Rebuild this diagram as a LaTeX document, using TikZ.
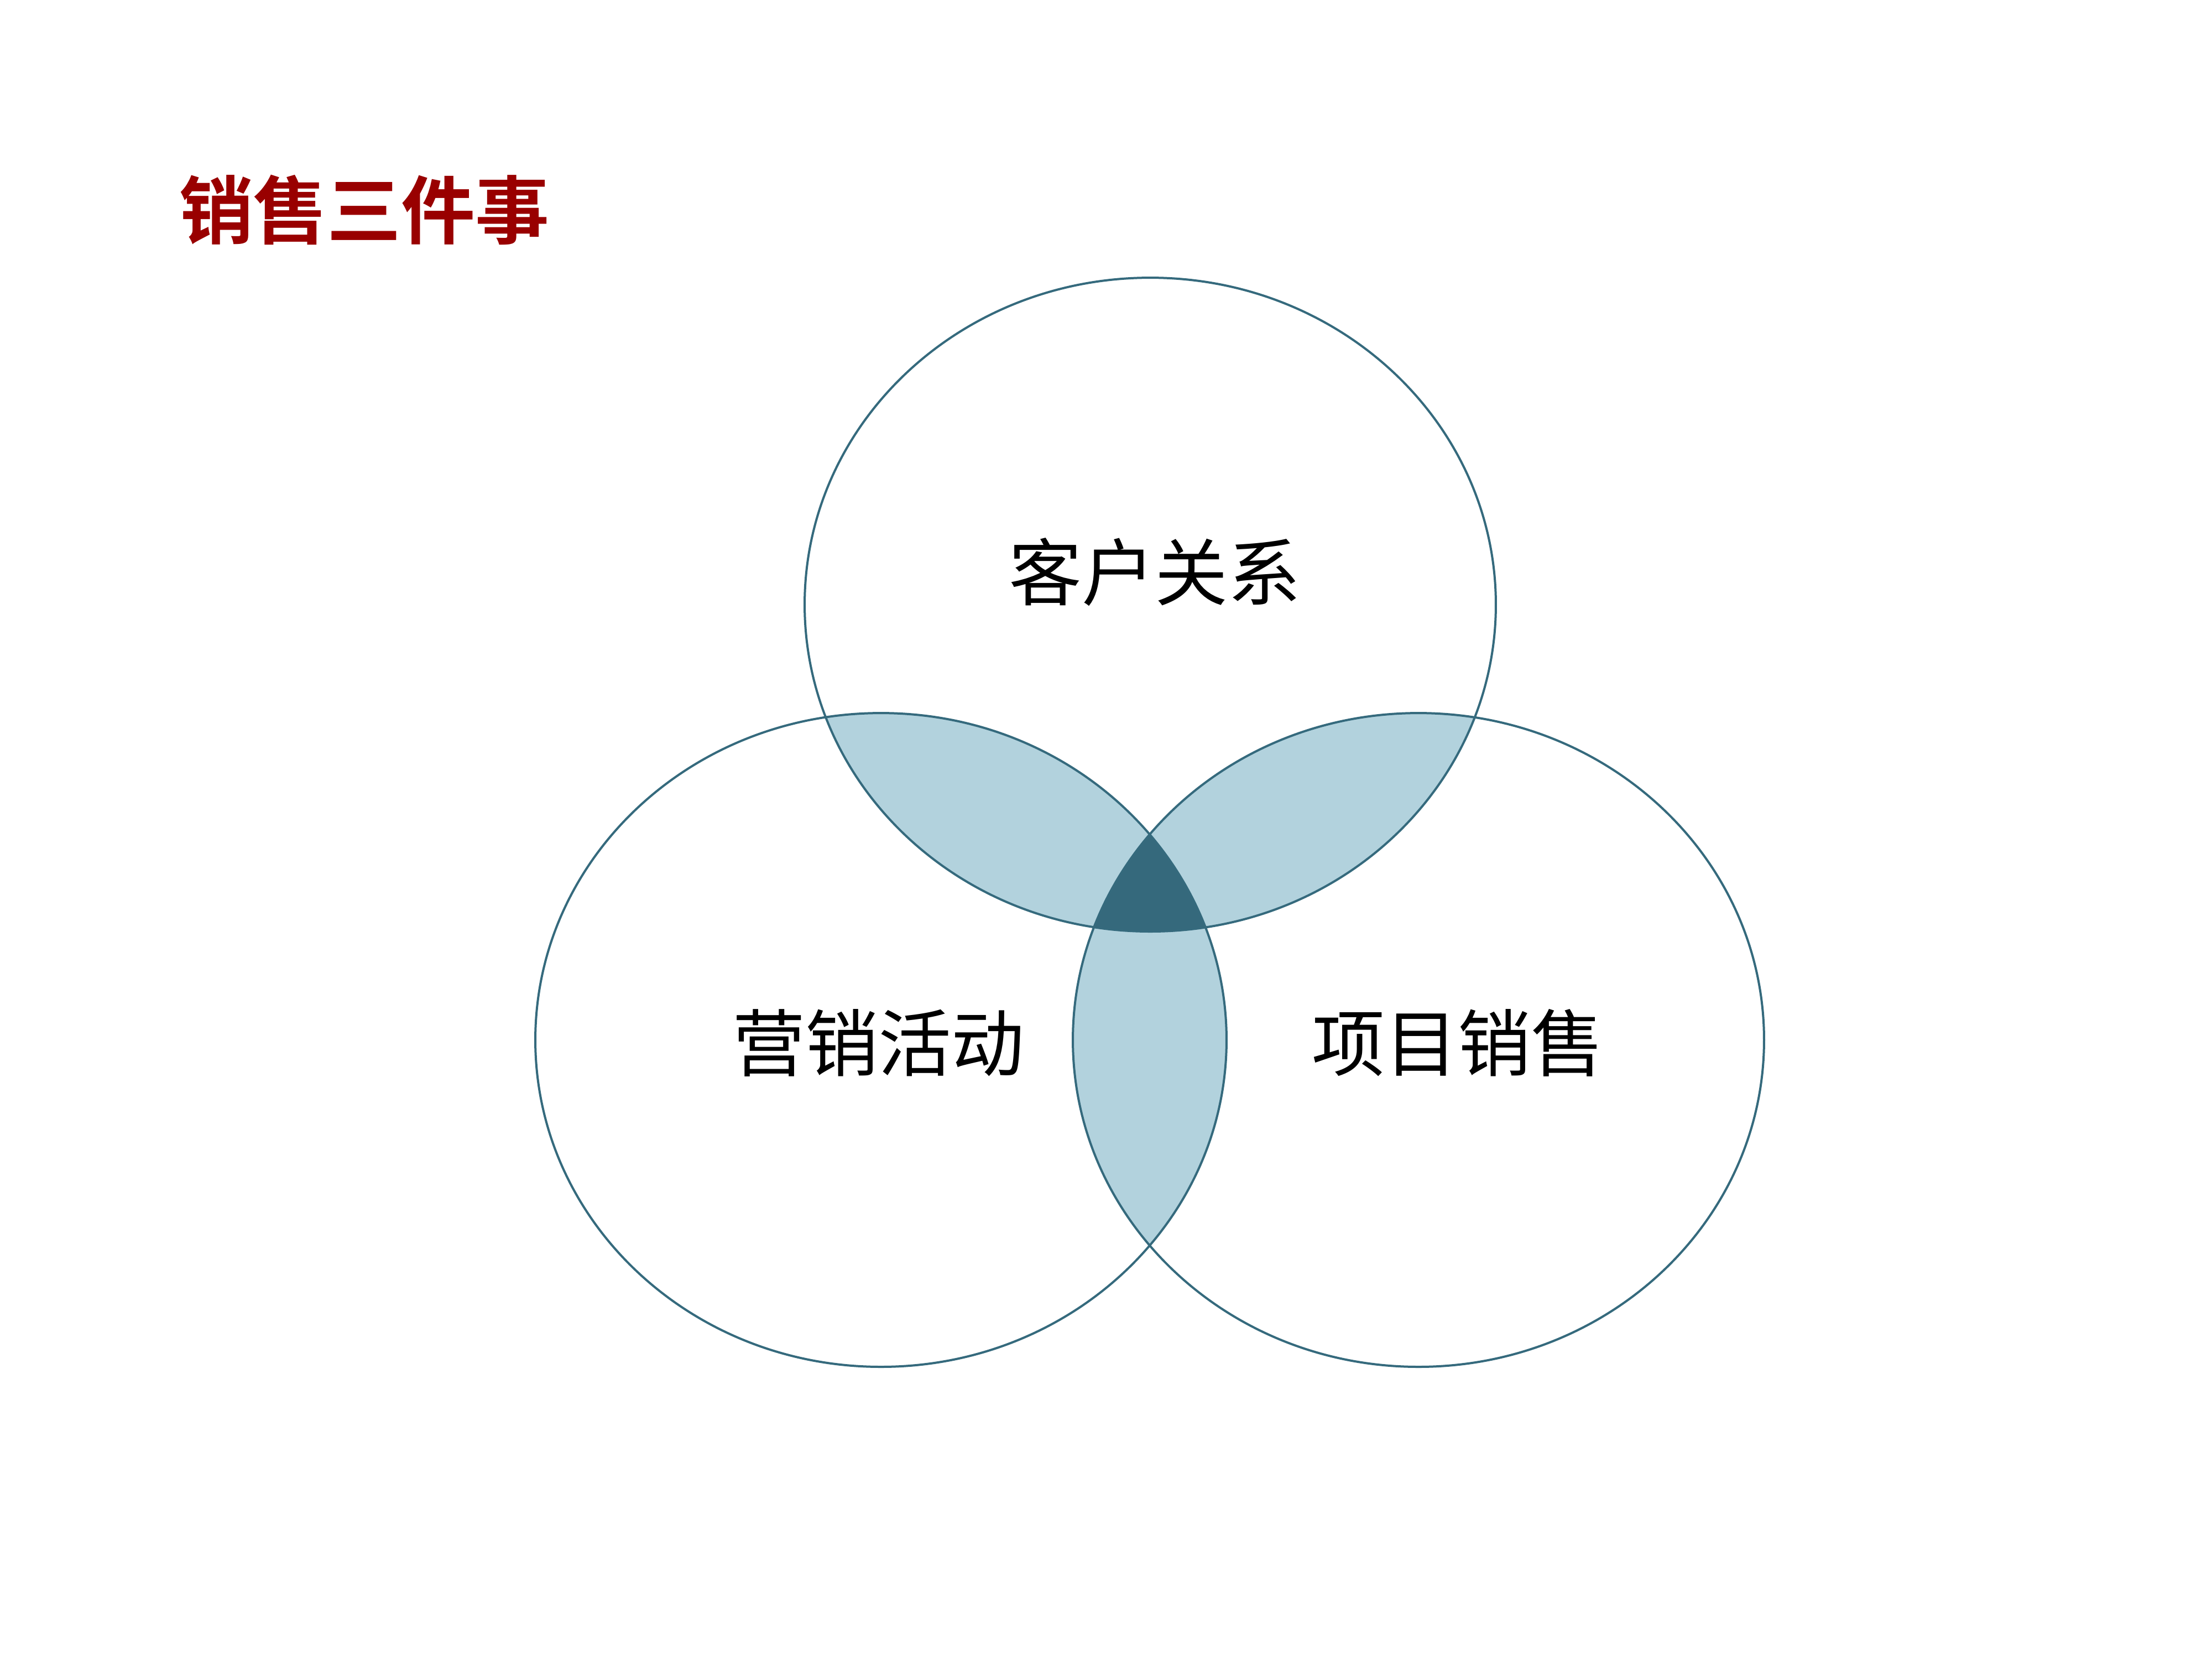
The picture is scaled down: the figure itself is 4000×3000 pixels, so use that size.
\documentclass[tikz,border=0pt]{standalone}
\usepackage{fontspec}
\newfontfamily\cjk{Noto Sans CJK SC}
\newfontfamily\cjkbold{Noto Sans CJK SC Bold}
\definecolor{ringline}{HTML}{356A7D}
\definecolor{lightfill}{HTML}{B2D2DD}
\definecolor{darkfill}{HTML}{35697C}
\definecolor{titlered}{HTML}{990000}
\tikzset{
  ring/.style={draw=ringline, line width=0.4pt},
  label/.style={font=\cjk\fontsize{13.2pt}{14pt}\selectfont, text=black, inner sep=0pt},
  titletext/.style={font=\cjkbold\fontsize{13.4pt}{14pt}\selectfont, text=titlered, inner sep=0pt, anchor=west}
}
\begin{document}
\begin{tikzpicture}[x=0.1pt,y=-0.1pt]
\useasboundingbox (0,0) rectangle (4000,3000);
\fill[white] (0,0) rectangle (4000,3000);
\def\rx{62.5pt}
\def\ry{59.1pt}
\coordinate (ct) at (2080,1093);
\coordinate (cl) at (1593,1880);
\coordinate (cr) at (2565,1880);
% pairwise intersections
\begin{scope}
  \clip (ct) ellipse [x radius=\rx, y radius=\ry];
  \fill[lightfill] (cl) ellipse [x radius=\rx, y radius=\ry];
  \fill[lightfill] (cr) ellipse [x radius=\rx, y radius=\ry];
\end{scope}
\begin{scope}
  \clip (cl) ellipse [x radius=\rx, y radius=\ry];
  \fill[lightfill] (cr) ellipse [x radius=\rx, y radius=\ry];
\end{scope}
% triple intersection
\begin{scope}
  \clip (ct) ellipse [x radius=\rx, y radius=\ry];
  \clip (cl) ellipse [x radius=\rx, y radius=\ry];
  \fill[darkfill] (cr) ellipse [x radius=\rx, y radius=\ry];
\end{scope}
% outlines
\draw[ring] (ct) ellipse [x radius=\rx, y radius=\ry];
\draw[ring] (cl) ellipse [x radius=\rx, y radius=\ry];
\draw[ring] (cr) ellipse [x radius=\rx, y radius=\ry];
% texts
\node[titletext] (title) at (322,379) {销售三件事};
\node[label] (kehu) at (2088,1034) {客户关系};
\node[label] (yingxiao) at (1588,1885) {营销活动};
\node[label] (xiangmu) at (2636,1885) {项目销售};
\end{tikzpicture}
\end{document}
